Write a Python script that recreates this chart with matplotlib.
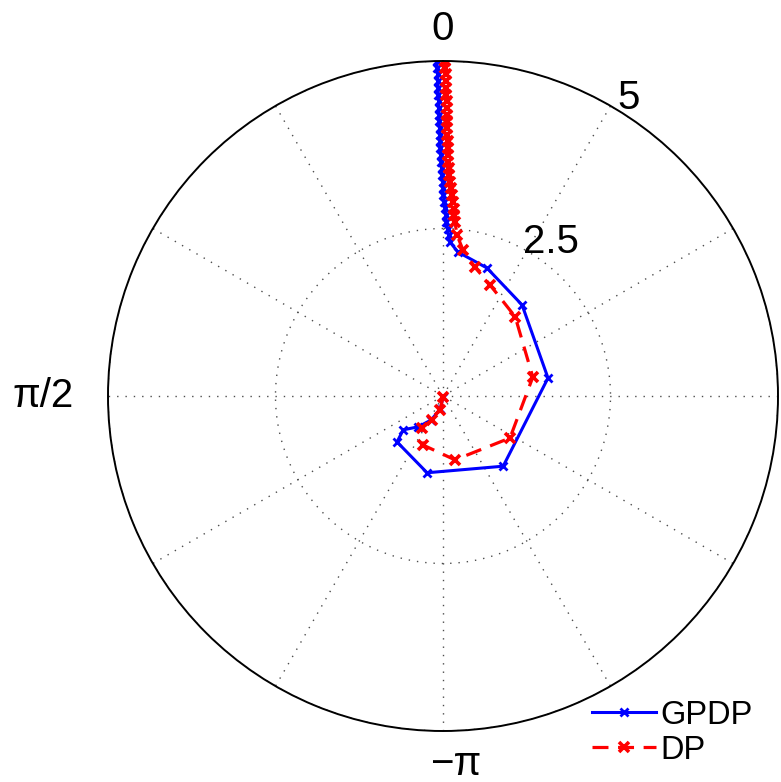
import numpy as np
import matplotlib
matplotlib.use("Agg")
import matplotlib.pyplot as plt

plt.rcParams['font.family'] = ['Liberation Sans', 'DejaVu Sans']

# GPDP trajectory (theta in rad, r)
gpdp_theta = [0.018, 0.018, 0.017, 0.017, 0.016, 0.016, 0.015, 0.015, 0.014, 0.014,
              0.013, 0.012, 0.012, 0.011, 0.010, 0.008, 0.006, 0.004, 0.002, 0.000,
              -0.002, -0.006, -0.011, -0.015, -0.020, -0.027, -0.035, -0.045,
              -0.104, -0.331, -0.715, -1.401, -2.433, -3.346, -3.927, -4.007,
              -3.82, -3.60, -3.35, -3.14]
gpdp_r = [5.0, 4.9, 4.8, 4.7, 4.6, 4.5, 4.4, 4.3, 4.2, 4.1,
          4.0, 3.9, 3.8, 3.7, 3.6, 3.5, 3.4, 3.3, 3.2, 3.1,
          3.0, 2.9, 2.8, 2.7, 2.6, 2.5, 2.4, 2.3,
          2.16, 2.02, 1.80, 1.59, 1.38, 1.17, 0.97, 0.78,
          0.59, 0.40, 0.20, 0.02]

# DP trajectory
dp_theta = [-0.006, -0.007, -0.008, -0.009, -0.010, -0.011, -0.012, -0.013, -0.014, -0.015,
            -0.016, -0.017, -0.018, -0.019, -0.020, -0.022, -0.025, -0.029, -0.034, -0.040,
            -0.045, -0.050, -0.056, -0.062, -0.069,
            -0.087, -0.136, -0.243, -0.401, -0.739, -1.363, -2.131, -2.956,
            -3.530, -3.722, -3.571, -3.353, -3.14]
dp_r = [5.0, 4.9, 4.8, 4.7, 4.6, 4.5, 4.4, 4.3, 4.2, 4.1,
        4.0, 3.9, 3.8, 3.7, 3.6, 3.5, 3.4, 3.3, 3.2, 3.1,
        3.0, 2.9, 2.8, 2.7, 2.6,
        2.41, 2.20, 1.98, 1.80, 1.60, 1.37, 1.18, 0.97,
        0.79, 0.57, 0.39, 0.21, 0.02]

series_labels = ["GPDP", "DP"]
theta_label_angles = [0, 90, 181.9]
theta_label_texts = ["0", "π/2", "−π"]
r_ticks = [2.5, 5]
r_tick_labels = ["2.5", "5"]

W, H = 781, 782
fig = plt.figure(figsize=(W / 100, H / 100), dpi=100)
cx, cy, R = 443, 396, 335
ax = fig.add_axes([(cx - R) / W, (H - cy - R) / H, 2 * R / W, 2 * R / H], projection='polar')
ax.set_theta_zero_location('N')
ax.set_theta_direction(1)
ax.set_rlim(0, 5)

# grid
ax.set_thetagrids(np.arange(0, 360, 30), [''] * 12)
ax.set_rgrids(r_ticks, [''] * len(r_ticks))
ax.grid(True, color='0.3', linestyle=(0, (1, 5)), linewidth=1.0)
ax.spines['polar'].set_color('black')
ax.spines['polar'].set_linewidth(1.4)

ax.plot(gpdp_theta, gpdp_r, color='#0000ff', linestyle='-', linewidth=2.2,
        marker='x', markersize=6, markeredgewidth=2.0, label=series_labels[0])
ax.plot(dp_theta, dp_r, color='#ff0000', linestyle=(0, (5, 3)), linewidth=2.3,
        marker='x', markersize=6.5, markeredgewidth=2.6, label=series_labels[1])

fs = 29
# theta labels
label_r = [5.48, 5.97, 5.5]
for ang, txt, rr in zip(theta_label_angles, theta_label_texts, label_r):
    ax.text(np.deg2rad(ang), rr, txt, ha='center', va='center', fontsize=fs,
            clip_on=False)
# radial labels
for ang, txt, rr in zip([-35, -32], r_tick_labels, [2.81, 5.24]):
    ax.text(np.deg2rad(ang), rr, txt, ha='center', va='center', fontsize=fs,
            clip_on=False)

leg = fig.legend(loc='lower right', bbox_to_anchor=(0.985, 0.0), frameon=False,
                 fontsize=23.5, numpoints=1, handlelength=1.95, handletextpad=0.15,
                 labelspacing=0.12, borderaxespad=0.1)

fig.savefig('out.png', dpi=100)
